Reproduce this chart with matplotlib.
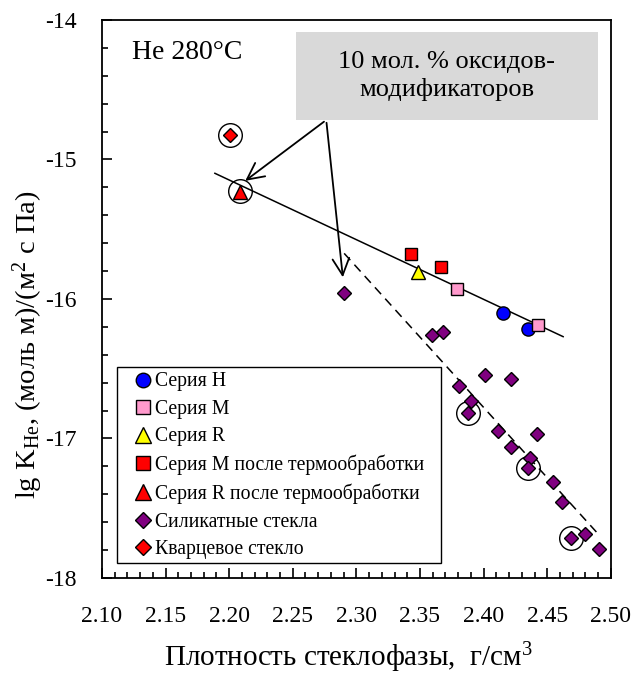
import matplotlib
matplotlib.use('Agg')
from matplotlib import pyplot as plt
from matplotlib.patches import Rectangle
from matplotlib.ticker import MultipleLocator, FormatStrFormatter

plt.rcParams['font.family'] = ['Liberation Serif', 'DejaVu Serif']
plt.rcParams['mathtext.fontset'] = 'custom'
plt.rcParams['mathtext.rm'] = 'Liberation Serif'
plt.rcParams['mathtext.it'] = 'Liberation Serif:italic'
plt.rcParams['axes.unicode_minus'] = False

# Data: density (g/cm3) and lg K
seriesH_x = [2.4154, 2.4345]
seriesH_y = [-16.098, -16.217]
seriesM_x = [2.3787, 2.4429]
seriesM_y = [-15.930, -16.186]
seriesR_x = [2.3486]
seriesR_y = [-15.809]
seriesM_heat_x = [2.3426, 2.3664]
seriesM_heat_y = [-15.680, -15.768]
seriesR_heat_x = [2.2085]
seriesR_heat_y = [-15.230]
silicate_x = [2.290, 2.3591, 2.3682, 2.401, 2.4212, 2.3806, 2.390, 2.3879, 2.4114,
              2.442, 2.4212, 2.4363, 2.435, 2.4547, 2.4617, 2.4686, 2.4796, 2.4906]
silicate_y = [-15.955, -16.258, -16.234, -16.545, -16.576, -16.624, -16.731, -16.815, -16.944,
              -16.968, -17.059, -17.142, -17.214, -17.310, -17.453, -17.711, -17.687, -17.794]
quartz_x = [2.201]
quartz_y = [-14.824]
# circled points
ring_x = [2.201, 2.2085, 2.3879, 2.435, 2.4686]
ring_y = [-14.824, -15.225, -16.815, -17.214, -17.711]
# trend lines
solid_x = [2.1888, 2.4625]
solid_y = [-15.099, -16.270]
dashed_x = [2.2904, 2.4906]
dashed_y = [-15.673, -17.690]

fig = plt.figure(figsize=(6.33, 6.75), dpi=100)
ax = fig.add_axes([0.161, 0.1437, 0.804, 0.8267])

ax.plot(solid_x, solid_y, color='black', lw=1.1, zorder=2)
ax.plot(dashed_x, dashed_y, color='black', lw=1.1, ls=(0, (6, 4)), zorder=2)

ax.plot(ring_x, ring_y, ls='none', marker='o', ms=17, mfc='none', mec='black', mew=1.0, zorder=3)

kw = dict(ls='none', mec='black', mew=1.0, zorder=4)
ax.plot(seriesH_x, seriesH_y, marker='o', ms=9.5, mfc='#0000ff', label='Серия H', **kw)
ax.plot(seriesM_x, seriesM_y, marker='s', ms=9, mfc='#ff99cc', label='Серия M', **kw)
ax.plot(seriesR_x, seriesR_y, marker='^', ms=10, mfc='#ffff00', label='Серия R', **kw)
ax.plot(seriesM_heat_x, seriesM_heat_y, marker='s', ms=9, mfc='#ff0000',
        label='Серия M после термообработки', **kw)
ax.plot(seriesR_heat_x, seriesR_heat_y, marker='^', ms=10, mfc='#ff0000',
        label='Серия R после термообработки', **kw)
ax.plot(silicate_x, silicate_y, marker='D', ms=7, mfc='#800080',
        label='Силикатные стекла', **kw)
ax.plot(quartz_x, quartz_y, marker='D', ms=7, mfc='#ff0000',
        label='Кварцевое стекло', **kw)

ax.set_xlim(2.10, 2.50)
ax.set_ylim(-18, -14)
ax.xaxis.set_major_locator(MultipleLocator(0.05))
ax.xaxis.set_minor_locator(MultipleLocator(0.01))
ax.yaxis.set_major_locator(MultipleLocator(1))
ax.yaxis.set_minor_locator(MultipleLocator(0.2))
ax.xaxis.set_major_formatter(FormatStrFormatter('%.2f'))
ax.tick_params(axis='both', which='both', direction='in', labelsize=17,
               top=False, right=False, width=1.2)
ax.tick_params(axis='x', which='major', length=7, pad=20)
ax.tick_params(axis='y', which='major', length=7, pad=18)
ax.tick_params(axis='both', which='minor', length=4)
for s in ax.spines.values():
    s.set_linewidth(1.3)

ax.set_xlabel('Плотность стеклофазы,  г/см$^3$', fontsize=21)
ax.xaxis.set_label_coords(0.485, -0.112)
ax.set_ylabel('lg K$_\\mathrm{He}$, (моль м)/(м$^2$ с Па)', fontsize=20.5)
ax.yaxis.set_label_coords(-0.146, 0.4176)
ax.yaxis.label.set_va('center')

ax.text(2.1236, -14.23, 'He 280°C', fontsize=20, va='center', ha='left')

ax.add_patch(Rectangle((2.2525, -14.717), 0.2373, 0.631, fc='#d9d9d9', ec='none', zorder=5))
ax.text(2.371, -14.40, '10 мол. % оксидов-\nмодификаторов', fontsize=19,
        ha='center', va='center', linespacing=1.25, zorder=6)

arrow = dict(arrowstyle='->', color='black', lw=1.3, mutation_scale=30)
ax.annotate('', xy=(2.2109, -15.165), xytext=(2.2763, -14.717), arrowprops=arrow)
ax.annotate('', xy=(2.2896, -15.864), xytext=(2.2763, -14.717), arrowprops=arrow)

# legend frame drawn separately so padding matches
ax.add_patch(Rectangle((0.0289, 0.027), 0.6365, 0.3513, transform=ax.transAxes,
                       fc='white', ec='black', lw=1.0, zorder=6))
leg = ax.legend(loc='center left', bbox_to_anchor=(0.0629, 0.2009), fontsize=14.2,
                frameon=False, handlelength=0.9, handletextpad=0.15, borderpad=0,
                labelspacing=0.43, numpoints=1, borderaxespad=0, markerscale=1.1)
leg.set_zorder(7)

fig.savefig('out.png', dpi=100)
